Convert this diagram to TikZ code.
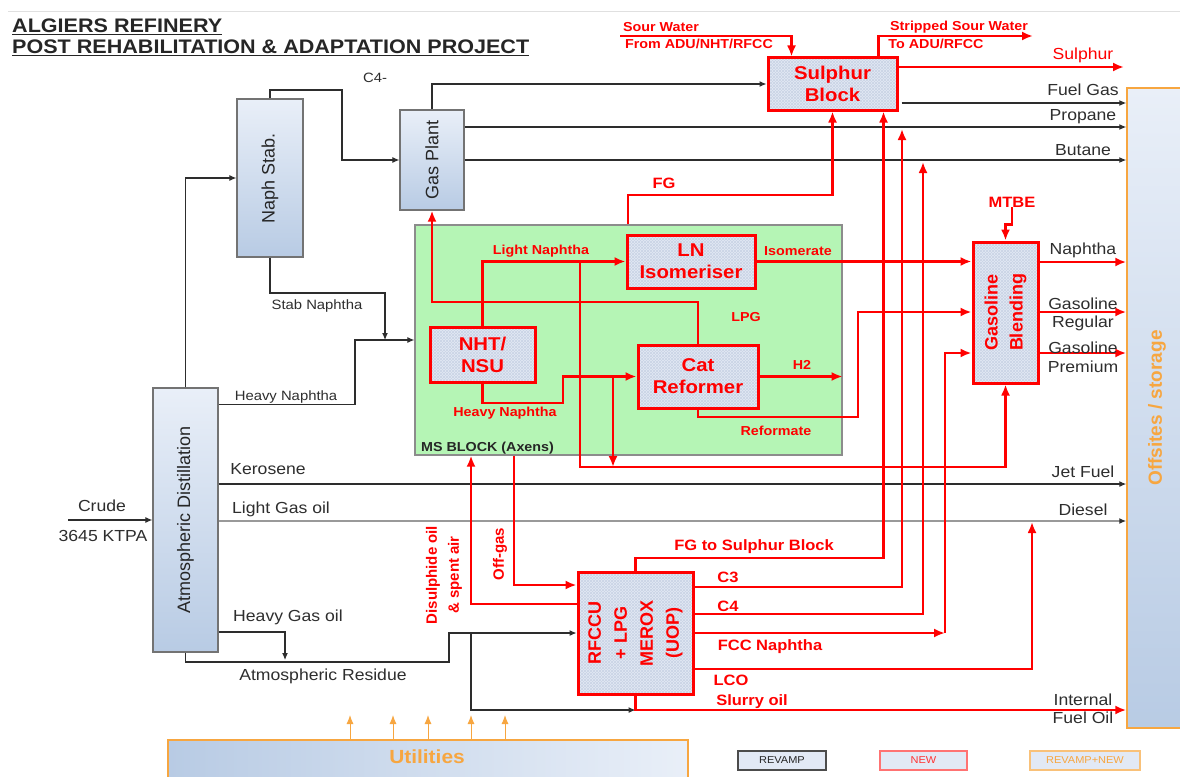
\documentclass[tikz,border=0pt]{standalone}
\usepackage{fontspec}
\setmainfont{Liberation Sans}[FakeStretch=1.1]
\newfontfamily\rfont{Liberation Sans}
\usetikzlibrary{arrows.meta,patterns,calc}
\definecolor{ublue1}{RGB}{233,239,248}
\definecolor{ublue2}{RGB}{184,203,228}
\definecolor{hatch}{RGB}{226,233,244}
\definecolor{hatchl}{RGB}{202,212,230}
\definecolor{msgreen}{RGB}{181,245,181}
\definecolor{orng}{RGB}{247,166,64}
\definecolor{lnk}{RGB}{45,45,45}
\definecolor{legfill}{RGB}{226,233,245}
\newcommand{\fsz}[2]{\fontsize{#1}{#2}\selectfont}
\tikzset{
 unit/.style={draw=black!55, line width=1.2pt, top color=ublue1, bottom color=ublue2, inner sep=0pt},
 newunit/.style={draw=red, line width=3pt, preaction={fill=hatch}, preaction={pattern=north east lines, pattern color=hatchl}, preaction={pattern=north west lines, pattern color=hatchl}, inner sep=0pt, text=red, font=\fsz{18.5}{22}\bfseries, align=center},
 blk/.style={draw=lnk, line width=1.1pt, -{Latex[length=7pt,width=6pt]}},
 rl/.style={draw=red, line width=2.6pt, -{Latex[length=11pt,width=9pt]}},
 lab/.style={font=\fsz{16}{16}, text=black!82, inner sep=0pt},
 slab/.style={font=\fsz{13.5}{13.5}, text=black!82, inner sep=0pt},
 rlab/.style={font=\fsz{13}{13}\bfseries, text=red, inner sep=0pt},
 rlabb/.style={font=\fsz{15}{15}\bfseries, text=red, inner sep=0pt},
 rottxt/.style={rotate=90, inner sep=0pt, font=\rfont\fsz{18}{18}, text=black!85},
}
\begin{document}
\begin{tikzpicture}[x=1pt,y=-1pt]
\useasboundingbox (0,0) rectangle (1180,776);
\fill[white] (0,0) rectangle (1180,776);
\draw[black!12, line width=1pt] (8,12) -- (1180,12);

% title
\node[anchor=base west, font=\fsz{19.6}{23}\bfseries, inner sep=0pt, text=black!85] (t1) at (12,33) {\underline{ALGIERS REFINERY}};
\node[anchor=base west, font=\fsz{19.6}{23}\bfseries, inner sep=0pt, text=black!85] (t2) at (12,54) {\underline{POST REHABILITATION \& ADAPTATION PROJECT}};

% background blocks
\node[draw=black!45, line width=1.2pt, fill=msgreen, minimum width=427pt, minimum height=230pt, inner sep=0pt] (ms) at (628.5,340) {};
\node[anchor=base west, font=\fsz{13}{13}\bfseries, text=black!85, inner sep=0pt] (mslab) at (421,451) {MS BLOCK (Axens)};

\node[draw=orng, line width=1.5pt, top color=ublue1, bottom color=ublue2, minimum width=80pt, minimum height=640pt, inner sep=0pt] (off) at (1167,408) {};
\node[rotate=90, inner sep=0pt, font=\rfont\fsz{19}{19}\bfseries, text=orng] (offt) at (1157,408) {Offsites / storage};

\node[draw=orng, line width=1.3pt, left color=ublue2, right color=ublue1, minimum width=520pt, minimum height=70pt, inner sep=0pt] (ut) at (428,775) {};
\node[font=\fsz{19}{19}\bfseries, text=orng, inner sep=0pt] (utt) at (427,757) {Utilities};
\foreach \x in {350,393,428,471,505}
  \draw[draw=orng, line width=1pt, -{Latex[length=9pt,width=7pt]}] (\x,0 |- ut.north) -- (\x,715);

% legend
\node[draw=black!70, line width=1.3pt, fill=legfill, minimum width=88pt, minimum height=19pt, inner sep=0pt, font=\fsz{10}{10}, text=black!85] (lg1) at (782,760.5) {REVAMP};
\node[draw=red!55, line width=1.3pt, fill=legfill, minimum width=87pt, minimum height=19pt, inner sep=0pt, font=\fsz{10}{10}, text=red!80] (lg2) at (923.5,760.5) {NEW};
\node[draw=orng!70, line width=1.3pt, fill=legfill, minimum width=110pt, minimum height=19pt, inner sep=0pt, font=\fsz{10}{10}, text=orng] (lg3) at (1085,760.5) {REVAMP+NEW};

% existing units
\node[unit, minimum width=65pt, minimum height=264pt] (ad) at (185.5,520) {};
\node[rottxt] (adt) at (ad.center) {Atmospheric Distillation};
\node[unit, minimum width=66pt, minimum height=158pt] (ns) at (270,178) {};
\node[rottxt] (nst) at (ns.center) {Naph Stab.};
\node[unit, minimum width=64pt, minimum height=100pt] (gp) at (432,160) {};
\node[rottxt] (gpt) at (gp.center) {Gas Plant};

% new units
\node[newunit, minimum width=129pt, minimum height=52pt] (sb) at (832.5,84) {Sulphur\\Block};
\node[newunit, minimum width=128pt, minimum height=53pt] (ln) at (691,261.5) {LN\\Isomeriser};
\node[newunit, minimum width=105pt, minimum height=55pt] (nht) at (482.5,354.5) {NHT/\\NSU};
\node[newunit, minimum width=120pt, minimum height=63pt] (cr) at (698,376.5) {Cat\\Reformer};
\node[newunit, minimum width=65pt, minimum height=141pt] (gb) at (1005.5,312.5) {};
\node[rotate=90, inner sep=0pt, font=\rfont\fsz{18}{25}\bfseries, text=red, align=center] (gbt) at (gb.center) {Gasoline\\Blending};
\node[newunit, minimum width=115pt, minimum height=122pt] (rf) at (635.5,633) {};
\node[rotate=90, inner sep=0pt, font=\rfont\fsz{18}{26}\bfseries, text=red, align=center] (rft) at (rf.center) {RFCCU\\+ LPG\\MEROX\\(UOP)};

% ---------- black connectors ----------
\coordinate (crude) at (68,520);
\draw[blk] (crude) -- (ad.west);
\node[lab] (lcrude) at (102,506) {Crude};
\node[lab] (lktpa) at (103,536) {3645 KTPA};

\draw[blk] (ad.north) |- (ns.west);
\draw[blk] (ns.north) |- (342,90) |- (gp.west);
\node[slab] (lc4) at (375,78) {C4-};
\coordinate (j1) at (385,340);
\draw[blk] (ns.south) |- (385,293) -- (j1);
\node[slab] (lstab) at (317,306) {Stab Naphtha};
\draw[blk] ($(ad.north east)+(0,17)$) -| (355,340) -- (ms.west);
\node[slab] (lhn) at (286,397) {Heavy Naphtha};

\draw[blk] (gp.north) |- (sb.west);
\draw[blk] (gp.east |- 0,127) -- (off.west |- 0,127);
\draw[blk] (gp.east) -- (off.west |- gp.east);
\draw[blk] ($(sb.east |- 0,103)+(3,0)$) -- (off.west |- 0,103);
\node[lab] (lfg) at (1083,90) {Fuel Gas};
\node[lab] (lprop) at (1083,117) {Propane};
\node[lab] (lbut) at (1083,150) {Butane};

\draw[blk] (ad.east |- 0,484) -- (off.west |- 0,484);
\node[lab] (lker) at (268,469) {Kerosene};
\node[lab] (ljet) at (1083,472) {Jet Fuel};
\draw[draw=black!40, line width=2.2pt, -{Latex[length=7pt,width=6pt,color=lnk]}] (ad.east |- 0,521) -- (off.west |- 0,521);
\node[lab] (llgo) at (281,509) {Light Gas oil};
\node[lab] (ldie) at (1083,510) {Diesel};
\draw[blk] (ad.east |- 0,632) -| (285,660);
\node[lab] (lhgo) at (288,617) {Heavy Gas oil};
\draw[blk] (ad.south) |- (449,662) |- (rf.west);
\node[lab] (lres) at (323,676) {Atmospheric Residue};
\draw[blk] (471,633) |- (rf.south |- 0,710);

% ---------- red connectors ----------
\coordinate (sw) at (620,36);
\draw[rl] (sw) -| ($(sb.north west)+(25,0)$);
\node[rlab] (lsw1) at (661,27) {Sour Water};
\node[rlab] (lsw2) at (699,44) {From ADU/NHT/RFCC};
\coordinate (ssw) at (1033,36);
\draw[rl] ($(sb.north west)+(112,0)$) |- (ssw);
\node[rlab] (lssw1) at (959,27) {Stripped Sour Water};
\node[rlab] (lssw2) at (936,44) {To ADU/RFCC};
\coordinate (sul) at (1124,67);
\draw[rl] (sb.east |- 0,67) -- (sul);
\node[font=\fsz{16}{16}, text=red, inner sep=0pt] (lsul) at (1083,55) {Sulphur};

\draw[rl] (ms.north -| 628,0) |- (740,195) -| (sb.south);
\node[rlabb] (lfgm) at (664,183) {FG};
\draw[rl] (cr.north) |- (500,302) -| (gp.south);
\node[rlab] (llpg) at (746,317) {LPG};
\draw[rl] (nht.north) |- (ln.west);
\node[rlab] (lln) at (541,251) {Light Naphtha};
\draw[rl] (580,261.5) |- (900,467) -| (gb.south);
\draw[rl] (nht.south) |- (563,403) |- (cr.west);
\node[rlab] (lhnr) at (505,413) {Heavy Naphtha};
\draw[rl] (613,376.5) -- (613,467);
\draw[rl] (ln.east) -- (gb.west |- ln.east);
\node[rlab] (liso) at (798,251) {Isomerate};
\draw[rl] (cr.east) -- (ms.east |- cr.east);
\node[rlab] (lh2) at (802,365) {H2};
\draw[rl] (cr.south) |- (858,417) |- (gb.west |- 0,312);
\node[rlab] (lref) at (776,431) {Reformate};
\node[rlabb] (mtbe) at (1012,202) {MTBE};
\draw[rl] (mtbe.south) -- ++(0,17) -| (gb.north);

\draw[rl] (gb.east |- 0,262) -- (off.west |- 0,262);
\draw[rl] (gb.east |- 0,312) -- (off.west |- 0,312);
\draw[rl] (gb.east |- 0,353) -- (off.west |- 0,353);
\node[lab] (lnap) at (1083,250) {Naphtha};
\node[lab] (lgr1) at (1083,304) {Gasoline};
\node[lab] (lgr2) at (1083,323) {Regular};
\node[lab] (lgp1) at (1083,348) {Gasoline};
\node[lab] (lgp2) at (1083,367) {Premium};

\draw[rl] (rf.north) |- (800,558) -| ($(sb.south east)+(-15,0)$);
\node[rlabb] (lfgs) at (754,547) {FG to Sulphur Block};
\draw[rl] (rf.east |- 0,587) -| (902,129);
\node[rlabb] (lc3) at (728,577) {C3};
\draw[rl] (rf.east |- 0,614) -| (923,162);
\node[rlabb] (lc4b) at (728,606) {C4};
\draw[rl] (rf.east) -- (945,633);
\draw[rl] (945,633) |- (gb.west |- 0,353);
\node[rlabb] (lfcc) at (770,647) {FCC Naphtha};
\draw[rl] (rf.east |- 0,669) -| (1032,522);
\node[rlabb] (llco) at (731,680) {LCO};
\draw[rl] (rf.south) |- (off.west |- 0,710);
\node[rlabb] (lslur) at (752,702) {Slurry oil};
\node[lab] (lint1) at (1083,700) {Internal};
\node[lab] (lint2) at (1083,718) {Fuel Oil};

\draw[rl] (rf.west |- 0,604) -| (ms.south -| 471,0);
\node[rotate=90, inner sep=0pt, font=\rfont\fsz{15}{22}\bfseries, text=red, align=center] (ldis) at (444,575) {Disulphide oil\\\& spent air};
\draw[rl] (ms.south -| 514,0) |- (rf.west |- 0,585);
\node[rotate=90, inner sep=0pt, font=\rfont\fsz{15}{15}\bfseries, text=red] (loff) at (500,554) {Off-gas};
\end{tikzpicture}
\end{document}
